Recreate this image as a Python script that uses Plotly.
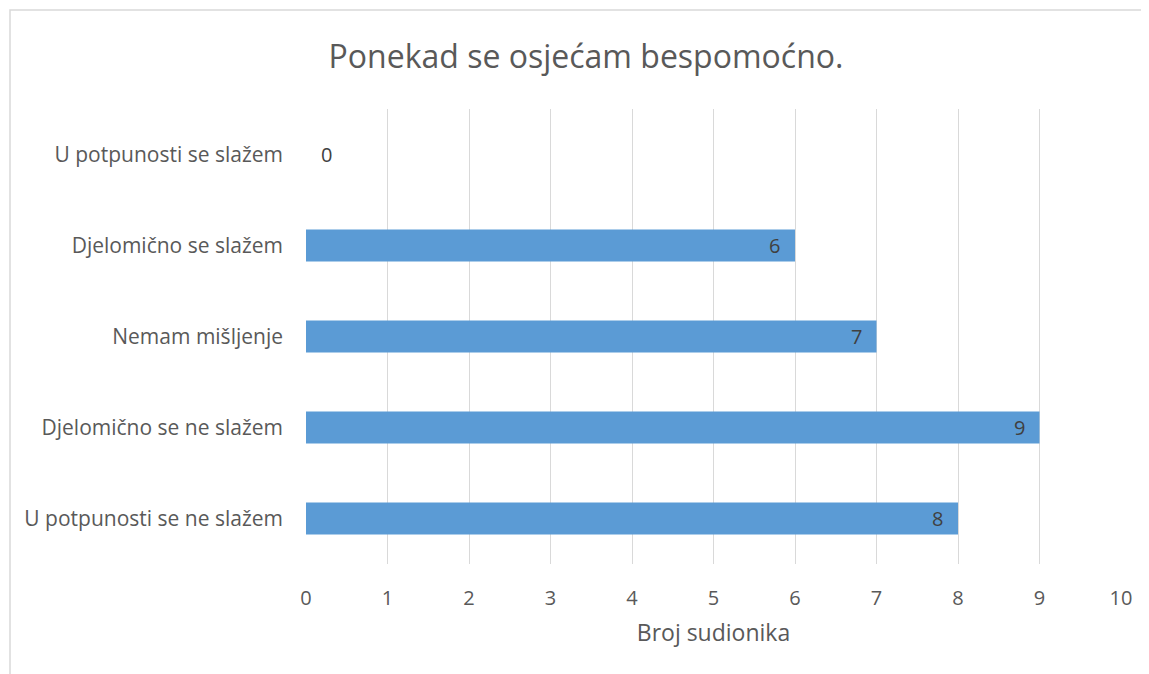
import plotly.graph_objects as go

categories = [
    "U potpunosti se ne slažem",
    "Djelomično se ne slažem",
    "Nemam mišljenje",
    "Djelomično se slažem",
    "U potpunosti se slažem",
]
values = [8, 9, 7, 6, 0]
x_ticks = list(range(0, 11))
title_text = "Ponekad se osjećam bespomoćno."
x_title = "Broj sudionika"

FONT = "Open Sans"
GREY = "#595959"
LABEL = "#404040"

# page body has an 8px margin; figure positions are expressed in figure pixels
OFF = 8
PAGE_W, PAGE_H = 1149, 674
W, H = PAGE_W - OFF, PAGE_H - OFF
L = 306 - OFF
R = W - (1121 - OFF)
T = 109 - OFF
B = H - (564 - OFF)
pw, ph = W - L - R, H - T - B

fig = go.Figure(
    go.Bar(
        x=values,
        y=categories,
        orientation="h",
        marker=dict(color="#5B9BD5", line=dict(width=0)),
        width=0.35,
        hoverinfo="skip",
    )
)

for v, c in zip(values, categories):
    if v > 0:
        fig.add_annotation(x=v, y=c, text=str(v), showarrow=False,
                           xanchor="right", xshift=-13,
                           font=dict(family=FONT, size=20, color=LABEL))
    else:
        fig.add_annotation(x=v, y=c, text=str(v), showarrow=False,
                           xanchor="left", xshift=13,
                           font=dict(family=FONT, size=20, color=LABEL))

# outer chart border (cropped on right/bottom like the reference)
fig.add_shape(type="rect", xref="paper", yref="paper",
              x0=(10 - OFF - L) / pw, x1=(W + 20 - L) / pw,
              y0=-(H + 20 - (H - B)) / ph, y1=1 + (T - (10 - OFF)) / ph,
              line=dict(color="#D9D9D9", width=1.5), layer="below")

fig.update_layout(
    width=W, height=H,
    margin=dict(l=L, r=R, t=T, b=B),
    paper_bgcolor="white", plot_bgcolor="white",
    showlegend=False,
    title=dict(text=title_text, x=(586 - OFF - L) / pw, xref="paper", xanchor="center",
               y=1 - (57 - OFF) / H, yanchor="middle",
               font=dict(family=FONT, size=32, color=GREY)),
    font=dict(family=FONT, color=GREY),
    xaxis=dict(range=[0, 10], tickvals=x_ticks, showgrid=True,
               gridcolor="#D9D9D9", gridwidth=1.3, zeroline=False,
               showline=False, ticks="", tickfont=dict(size=20, color=GREY),
               ticklabelstandoff=20,
               title=dict(text=x_title, font=dict(size=23, color=GREY), standoff=14)),
    yaxis=dict(showgrid=False, zeroline=False, showline=False, ticks="",
               tickfont=dict(size=21, color=GREY), ticklabelstandoff=22,
               range=[-0.5, 4.5]),
)

fig.write_html("out.html")
